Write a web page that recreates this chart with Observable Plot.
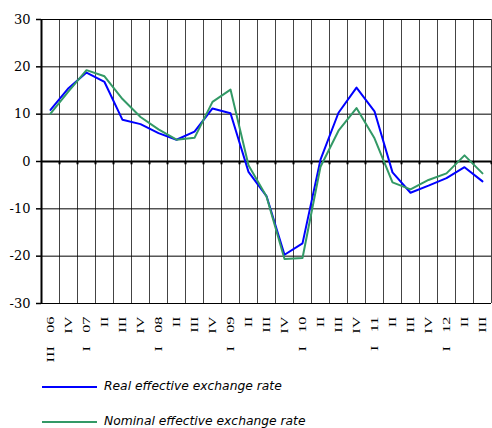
<!DOCTYPE html>
<html>
<head>
<meta charset="utf-8">
<script src="https://cdn.jsdelivr.net/npm/d3@7"></script>
<script src="https://cdn.jsdelivr.net/npm/@observablehq/plot@0.6"></script>
<style>
  html, body { margin: 0; padding: 0; background: white; }
  #wrap { width: 492px; height: 428px; position: relative; overflow: hidden; }
  #legend { position: relative; height: 56px; font-family: "DejaVu Sans", sans-serif; font-style: italic; font-size: 12.3px; color: #000; }
  .row { position: absolute; left: 0; height: 16px; }
  .sw { position: absolute; left: 42px; width: 55px; height: 2px; top: 8px; }
  .lab { position: absolute; left: 104px; top: 1px; white-space: nowrap; }
</style>
</head>
<body>
<div id="wrap"><div id="chart"></div><div id="legend"></div></div>
<script>
const labels = ["III 06","IV","I 07","II","III","IV","I 08","II","III","IV","I 09","II","III","IV","I 10","II","III","IV","I 11","II","III","IV","I 12","II","III"];
const real = [10.9,15.5,18.8,16.8,8.8,7.9,6.0,4.6,6.3,11.2,10.2,-2.2,-7.3,-19.7,-17.3,0.4,10.3,15.6,10.6,-2.3,-6.6,-5.1,-3.5,-1.2,-4.2];
const nominal = [10.1,14.8,19.3,18.0,13.2,9.4,6.8,4.6,5.0,12.6,15.2,-0.8,-7.4,-20.6,-20.4,-1.1,6.5,11.3,4.9,-4.4,-5.9,-3.9,-2.5,1.3,-2.5];
const seriesNames = ["Real effective exchange rate", "Nominal effective exchange rate"];
const seriesColors = ["#0000ff", "#339966"];
const yTicks = [-30, -20, -10, 0, 10, 20, 30];

const idx = labels.map((_, i) => i);
const bounds = labels.map((_, i) => i + 0.5);

const chart = Plot.plot({
  width: 492,
  height: 372,
  marginLeft: 41,
  marginRight: 1,
  marginTop: 19,
  marginBottom: 69,
  x: {domain: [-0.5, labels.length - 0.5], axis: null},
  y: {domain: [-30, 30], axis: null},
  style: {background: "white", fontFamily: "Liberation Serif, serif"},
  marks: [
    Plot.ruleX(bounds, {stroke: "#444", strokeWidth: 1}),
    Plot.ruleY(yTicks, {stroke: "black", strokeWidth: 1}),
    Plot.ruleX(bounds, {y1: 0, y2: -0.7, stroke: "black", strokeWidth: 2}),
    Plot.ruleY([0], {stroke: "black", strokeWidth: 2}),
    Plot.ruleX([-0.5], {stroke: "black", strokeWidth: 2}),
    Plot.axisY({ticks: yTicks, tickSize: 5, tickPadding: 6, tickFormat: d => String(d), fontSize: 13, fontFamily: "DejaVu Serif, serif", stroke: "black", strokeWidth: 1.5}),
    Plot.axisX({ticks: idx, tickFormat: i => labels[i], tickRotate: -90, tickSize: 0, tickPadding: 13, fontSize: 10.5}),
    Plot.lineY(real, {x: (d, i) => i, y: d => d, stroke: seriesColors[0], strokeWidth: 2}),
    Plot.lineY(nominal, {x: (d, i) => i, y: d => d, stroke: seriesColors[1], strokeWidth: 2})
  ]
});
document.getElementById("chart").appendChild(chart);

chart.querySelectorAll('g[aria-label="x-axis tick label"] text').forEach(t => {
  const tr = t.getAttribute("transform") || "";
  t.setAttribute("transform", tr + " scale(1.55,1)");
  t.style.wordSpacing = "6px";
});

const legend = document.getElementById("legend");
const centers = [14, 49];
seriesNames.forEach((name, i) => {
  const row = document.createElement("div");
  row.className = "row";
  row.style.top = (centers[i] - 8) + "px";
  row.innerHTML = `<div class="sw" style="background:${seriesColors[i]}"></div><div class="lab">${name}</div>`;
  legend.appendChild(row);
});
</script>
</body>
</html>
